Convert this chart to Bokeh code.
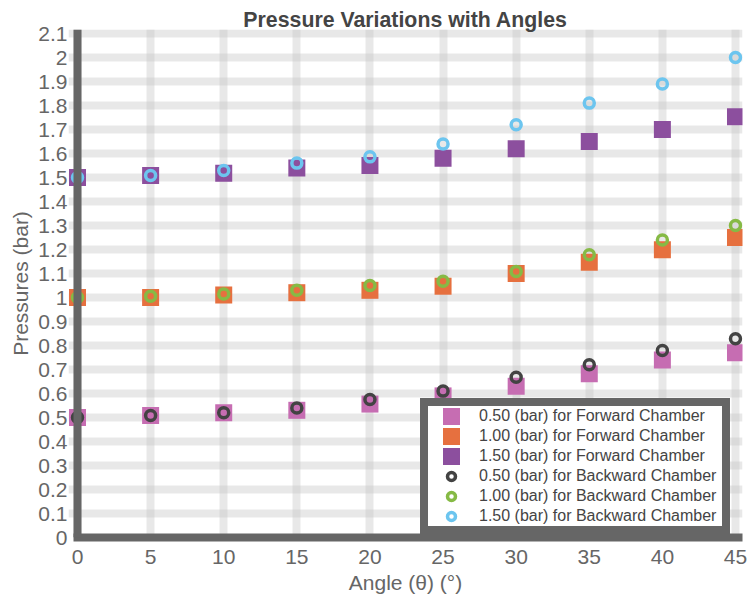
from bokeh.plotting import figure
from bokeh.models import Range1d, FixedTicker, Span, Legend, LegendItem
from bokeh.embed import file_html
from bokeh.resources import INLINE

# ---- data ----
angles = [0, 5, 10, 15, 20, 25, 30, 35, 40, 45]
fwd_050 = [0.50, 0.508, 0.52, 0.53, 0.556, 0.59, 0.63, 0.682, 0.74, 0.77]
fwd_100 = [1.00, 1.00, 1.01, 1.02, 1.03, 1.047, 1.10, 1.147, 1.199, 1.25]
fwd_150 = [1.50, 1.508, 1.518, 1.54, 1.55, 1.58, 1.62, 1.65, 1.70, 1.753]
bwd_050 = [0.50, 0.508, 0.52, 0.54, 0.575, 0.61, 0.668, 0.72, 0.779, 0.828]
bwd_100 = [1.00, 1.005, 1.015, 1.03, 1.05, 1.068, 1.108, 1.178, 1.24, 1.30]
bwd_150 = [1.50, 1.508, 1.529, 1.56, 1.586, 1.64, 1.72, 1.81, 1.89, 2.00]

x_ticks = [0, 5, 10, 15, 20, 25, 30, 35, 40, 45]
x_tick_labels = ["0", "5", "10", "15", "20", "25", "30", "35", "40", "45"]
y_ticks = [0.0, 0.1, 0.2, 0.3, 0.4, 0.5, 0.6, 0.7, 0.8, 0.9, 1.0,
           1.1, 1.2, 1.3, 1.4, 1.5, 1.6, 1.7, 1.8, 1.9, 2.0, 2.1]
y_tick_labels = ["0", "0.1", "0.2", "0.3", "0.4", "0.5", "0.6", "0.7", "0.8", "0.9", "1",
                 "1.1", "1.2", "1.3", "1.4", "1.5", "1.6", "1.7", "1.8", "1.9", "2", "2.1"]

labels = ["0.50 (bar) for Forward Chamber", "1.00 (bar) for Forward Chamber",
          "1.50 (bar) for Forward Chamber", "0.50 (bar) for Backward Chamber",
          "1.00 (bar) for Backward Chamber", "1.50 (bar) for Backward Chamber"]
sq_colors = ["#C66DB2", "#E6703F", "#8C4F9E"]
ci_colors = ["#434343", "#86BA45", "#6CC5EF"]

FONT = "Liberation Sans"
AX = "#666666"

p = figure(width=750, height=598, output_backend="svg", toolbar_location=None,
           x_range=Range1d(-0.6156, 45.479), y_range=Range1d(0, 2.1167),
           min_border_left=68, min_border_right=8, min_border_top=29, min_border_bottom=61,
           title="Pressure Variations with Angles")
p.outline_line_color = None
p.background_fill_color = "white"

p.title.align = "center"
p.title.text_font = FONT
p.title.text_font_size = "21.3px"
p.title.text_font_style = "bold"
p.title.text_color = "#444444"
p.title.standoff = -4

# grids
p.xgrid.ticker = FixedTicker(ticks=x_ticks)
p.ygrid.ticker = FixedTicker(ticks=y_ticks)
for g in (p.xgrid, p.ygrid):
    g.grid_line_color = "#c4c4c4"
    g.grid_line_alpha = 0.39
    g.grid_line_width = 8

# axes
p.xaxis.ticker = FixedTicker(ticks=x_ticks)
p.yaxis.ticker = FixedTicker(ticks=y_ticks)
p.xaxis.major_label_overrides = {t: l for t, l in zip(x_ticks, x_tick_labels)}
p.yaxis.major_label_overrides = {t: l for t, l in zip(y_ticks, y_tick_labels)}
for ax in (p.xaxis, p.yaxis):
    ax.major_tick_line_color = None
    ax.minor_tick_line_color = None
    ax.major_tick_in = 0
    ax.major_tick_out = 0
    ax.minor_tick_in = 0
    ax.minor_tick_out = 0
    ax.major_label_text_font = FONT
    ax.major_label_text_font_size = "21px"
    ax.major_label_text_color = AX
    ax.axis_label_text_font = FONT
    ax.axis_label_text_font_size = "21px"
    ax.axis_label_text_font_style = "normal"
    ax.axis_label_text_color = AX
p.yaxis.axis_line_color = None
# bottom spine: the x axis line itself
p.xaxis.axis_line_color = AX
p.xaxis.axis_line_width = 8
p.xaxis.bounds = (-0.27, 45.479)
p.xaxis.axis_label = "Angle (θ) (°)"
p.yaxis.axis_label = "Pressures (bar)"
p.xaxis.major_label_standoff = 12
p.xaxis.axis_label_standoff = 4
p.yaxis.major_label_standoff = 1
p.yaxis.axis_label_standoff = 3

# left spine
p.add_layout(Span(location=0, dimension="height", line_color=AX, line_width=8))

# data
renderers = []
for ys, c in zip([fwd_050, fwd_100, fwd_150], sq_colors):
    r = p.scatter(angles, ys, marker="square", size=8, fill_color=c,
                  line_color=c, line_width=9, line_join="miter")
    renderers.append(r)
for ys, c in zip([bwd_050, bwd_100, bwd_150], ci_colors):
    r = p.scatter(angles, ys, marker="circle", size=10, fill_color=None,
                  line_color=c, line_width=3.5)
    renderers.append(r)

legend = Legend(items=[LegendItem(label=l, renderers=[r]) for l, r in zip(labels, renderers)],
                location=(352, 3), orientation="vertical")
legend.border_line_color = AX
legend.border_line_width = 8
legend.border_line_alpha = 1
legend.background_fill_color = "white"
legend.background_fill_alpha = 1
legend.padding = 0
legend.spacing = 0
legend.margin = 0
legend.glyph_width = 46
legend.glyph_height = 20
legend.label_height = 20
legend.label_width = 243
legend.label_standoff = 5
legend.label_text_font = FONT
legend.label_text_font_size = "16px"
legend.label_text_color = "#444444"
p.add_layout(legend)

open("out.html", "w").write(file_html(p, INLINE))
